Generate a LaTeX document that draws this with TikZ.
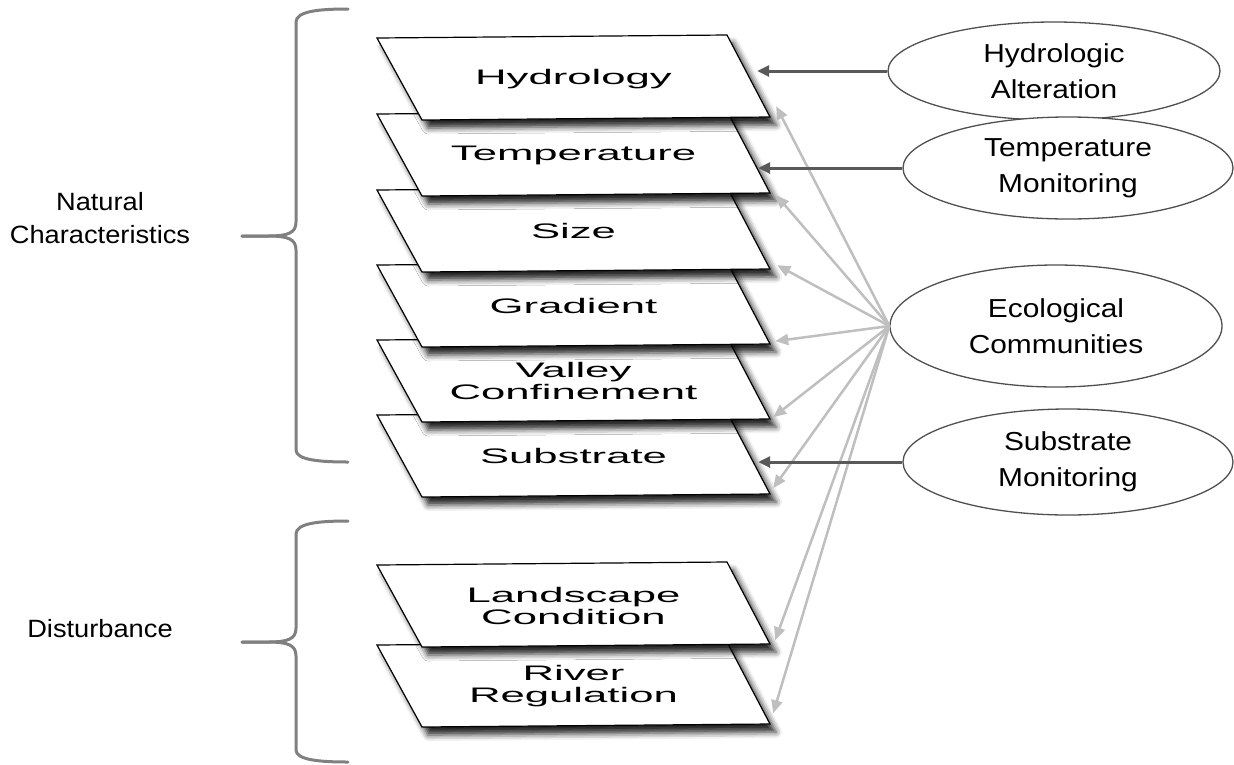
\documentclass[tikz,border=0pt]{standalone}
\usepackage{fontspec}
\setmainfont{Liberation Sans}
\newfontfamily\lblfont[FakeStretch=1.09]{Liberation Sans}
\newfontfamily\ellfont[FakeStretch=1.15]{Liberation Sans}
\newfontfamily\boxfont[FakeStretch=2.08]{Liberation Sans}
\usetikzlibrary{shapes.geometric,shadows.blur,arrows.meta,calc}
\definecolor{darkarrow}{HTML}{595959}
\definecolor{lightarrow}{HTML}{BFBFBF}
\definecolor{bracegray}{HTML}{808080}
\definecolor{ellborder}{HTML}{505050}
% one layer: name, centre y, text
\newcommand\layerbox[3]{%
  \path[layerpoly] (377,{#2-41}) -- (727,{#2-44}) -- (770,{#2+38}) -- (422,{#2+41}) -- cycle;
  \node[layertext] (#1) at (573.5,#2) {#3};}
\begin{document}
\begin{tikzpicture}[x=1pt,y=-1pt,
 layerpoly/.style={draw=black, line width=1.2pt, fill=white, line join=miter,
   blur shadow={shadow xshift=6pt, shadow yshift=-8pt, shadow blur radius=6pt, shadow opacity=85}},
 layertext/.style={minimum width=393pt, minimum height=82pt, inner sep=0pt, align=center,
   font=\boxfont\fontsize{21}{22}\selectfont},
 oval/.style={ellipse, draw=ellborder, line width=1.3pt, fill=white, inner sep=0pt, align=center,
   font=\ellfont\fontsize{26}{36}\selectfont},
 grouplabel/.style={align=center, font=\lblfont\fontsize{25}{33}\selectfont},
 brace/.style={draw=bracegray, line width=3pt, line cap=round},
 dark/.style={draw=darkarrow, line width=3pt, -{Triangle[length=12pt,width=11pt]}},
 light/.style={draw=lightarrow, line width=2.5pt, -{Triangle[length=13pt,width=11pt]}}]

\useasboundingbox (0,0) rectangle (1234,764);

% layers, bottom to top
\layerbox{riv}{686}{River\\Regulation}
\layerbox{lnd}{606}{Landscape\\Condition}
\layerbox{sub}{456}{Substrate}
\layerbox{val}{381}{Valley\\Confinement}
\layerbox{gra}{306}{Gradient}
\layerbox{siz}{231}{Size}
\layerbox{tmp}{155}{Temperature}
\layerbox{hyd}{79}{Hydrology}

% ellipses
\node[oval, minimum width=332pt, minimum height=98pt] (hal) at (1054,71) {Hydrologic\\Alteration};
\node[oval, minimum width=330pt, minimum height=102pt] (tmo) at (1068,168) {Temperature\\Monitoring};
\node[oval, minimum width=332pt, minimum height=122pt] (eco) at (1056,326) {Ecological\\Communities};
\node[oval, minimum width=330pt, minimum height=106pt] (smo) at (1068,462) {Substrate\\Monitoring};

% group labels
\node[grouplabel] (nat) at (100,218) {Natural\\Characteristics};
\node[grouplabel] (dis) at (100,629) {Disturbance};

% braces
\draw[brace] (348,9) .. controls (320,9) and (296,11) .. (296,22) -- (296,222)
  .. controls (296,233) and (288,236) .. (268,236) -- (242,236);
\draw[brace] (242,236) -- (268,236) .. controls (288,236) and (296,239) .. (296,250) -- (296,450)
  .. controls (296,460) and (320,462) .. (348,462);
\draw[brace] (348,521) .. controls (320,521) and (296,523) .. (296,534) -- (296,628)
  .. controls (296,639) and (288,642) .. (268,642) -- (242,642);
\draw[brace] (242,642) -- (268,642) .. controls (288,642) and (296,645) .. (296,656) -- (296,750)
  .. controls (296,760) and (320,762) .. (348,762);

% light arrows from Ecological Communities
\foreach \b/\dx/\dy in {hyd/6/-14, tmp/6/-1, siz/7/-7, gra/5/-6, val/3/-5, sub/3/-9, lnd/5/-7, riv/3/-14}
  \draw[light] (eco.west) -- ($(\b.south east)+(\dx,\dy)$);

% dark arrows
\draw[dark, shorten >=-13pt] (hal.west) -- (hal.west -| hyd.south east);
\draw[dark, shorten >=-12pt] (tmo.west) -- (tmo.west -| tmp.south east);
\draw[dark, shorten >=-12pt] (smo.west) -- (smo.west -| sub.south east);
\end{tikzpicture}
\end{document}
